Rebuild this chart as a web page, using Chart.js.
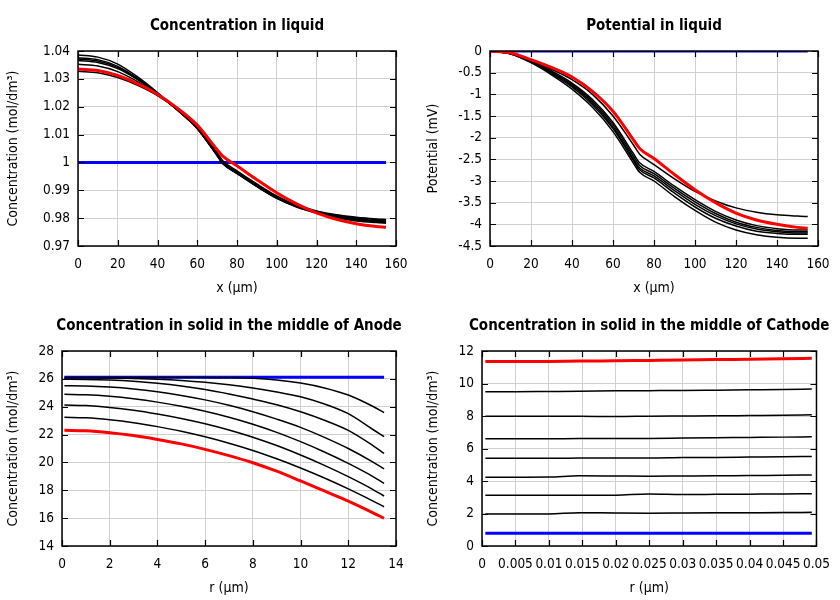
<!DOCTYPE html>
<html><head><meta charset="utf-8">
<script src="https://cdn.jsdelivr.net/npm/chart.js@4/dist/chart.umd.min.js"></script>
<style>
html,body{margin:0;padding:0;background:#fff;}
#wrap{position:relative;width:840px;height:600px;}
.cell{position:absolute;width:420px;height:300px;}
</style></head><body>
<div id="wrap">
<div class="cell" style="left:0;top:0"><canvas id="c1" width="420" height="300"></canvas></div>
<div class="cell" style="left:420px;top:0"><canvas id="c2" width="420" height="300"></canvas></div>
<div class="cell" style="left:0;top:300px"><canvas id="c3" width="420" height="300"></canvas></div>
<div class="cell" style="left:420px;top:300px"><canvas id="c4" width="420" height="300"></canvas></div>
</div>
<script>
// ---------- Data ----------
// Panel 1: Concentration in liquid (mol/dm3) vs x (µm)
const liqX = [0,10,20,30,40,50,60,70,73,80,90,100,110,120,130,140,150,155];
const liqConcRed = [1.0335,1.0330,1.0312,1.0283,1.0245,1.0195,1.0134,1.0046,1.0022,0.9988,0.9938,0.9891,0.9851,0.9819,0.9796,0.9780,0.9770,0.9767];
const liqConcBlack1 = [1.0386,1.0378,1.0353,1.0307,1.0251,1.0188,1.0121,1.0024,0.9994,0.9960,0.9913,0.9871,0.9840,0.9818,0.9801,0.9790,0.9784,0.9782];
const liqConcBlack2 = [1.0376,1.0369,1.0345,1.0302,1.0249,1.0188,1.0122,1.0025,0.9995,0.9961,0.9914,0.9872,0.9841,0.9820,0.9804,0.9793,0.9787,0.9785];
const liqConcBlack3 = [1.0371,1.0364,1.0341,1.0299,1.0248,1.0188,1.0123,1.0026,0.9996,0.9962,0.9915,0.9873,0.9842,0.9821,0.9806,0.9795,0.9789,0.9787];
const liqConcBlack4 = [1.0366,1.0359,1.0337,1.0297,1.0247,1.0188,1.0123,1.0027,0.9997,0.9963,0.9916,0.9874,0.9843,0.9822,0.9808,0.9798,0.9792,0.9790];
const liqConcBlack5 = [1.0352,1.0346,1.0326,1.0290,1.0245,1.0189,1.0125,1.0030,1.0000,0.9966,0.9919,0.9877,0.9845,0.9824,0.9810,0.9801,0.9795,0.9793];
const liqConcBlack6 = [1.0327,1.0322,1.0305,1.0277,1.0240,1.0190,1.0128,1.0035,1.0005,0.9970,0.9923,0.9880,0.9847,0.9826,0.9812,0.9803,0.9797,0.9795];
const liqConcBlue = [1,1,1,1,1,1,1,1,1,1,1,1,1,1,1,1,1,1];

// Panel 2: Potential in liquid (mV) vs x (µm)
const potRed = [0,-0.04,-0.20,-0.38,-0.60,-0.93,-1.39,-2.05,-2.25,-2.48,-2.85,-3.20,-3.50,-3.74,-3.90,-4.00,-4.07,-4.09];
const potBlack1 = [0,-0.05,-0.22,-0.42,-0.66,-1.00,-1.50,-2.17,-2.38,-2.62,-2.95,-3.24,-3.46,-3.62,-3.72,-3.78,-3.81,-3.82];
const potBlack2 = [0,-0.05,-0.23,-0.46,-0.74,-1.12,-1.65,-2.37,-2.58,-2.78,-3.12,-3.43,-3.70,-3.90,-4.03,-4.10,-4.13,-4.13];
const potBlack3 = [0,-0.06,-0.24,-0.48,-0.77,-1.16,-1.70,-2.43,-2.64,-2.83,-3.17,-3.48,-3.75,-3.95,-4.07,-4.14,-4.17,-4.17];
const potBlack4 = [0,-0.06,-0.25,-0.50,-0.80,-1.20,-1.75,-2.49,-2.70,-2.88,-3.22,-3.54,-3.80,-3.99,-4.11,-4.17,-4.20,-4.20];
const potBlack5 = [0,-0.065,-0.26,-0.52,-0.83,-1.24,-1.79,-2.53,-2.74,-2.93,-3.28,-3.60,-3.86,-4.04,-4.16,-4.21,-4.23,-4.23];
const potBlack6 = [0,-0.07,-0.27,-0.55,-0.88,-1.30,-1.86,-2.59,-2.80,-3.00,-3.36,-3.68,-3.95,-4.13,-4.24,-4.30,-4.32,-4.32];
const potBlue = [0,0,0,0,0,0,0,0,0,0,0,0,0,0,0,0,0,0];

// Panel 3: Concentration in solid, middle of Anode vs r (µm)
const anodeR = [0.1,1,2,3,4,5,6,7,8,9,10,11,12,13,13.5];
const anodeRed = [22.31,22.27,22.13,21.93,21.65,21.33,20.94,20.49,19.98,19.37,18.67,17.95,17.23,16.42,15.99];
const anodeBlack1 = [26.10,26.10,26.10,26.10,26.10,26.10,26.09,26.08,26.04,25.92,25.70,25.35,24.84,24.05,23.57];
const anodeBlack2 = [26.08,26.08,26.06,26.03,25.97,25.88,25.75,25.57,25.34,25.06,24.72,24.20,23.50,22.40,21.85];
const anodeBlack3 = [25.97,25.96,25.91,25.82,25.68,25.49,25.24,24.92,24.55,24.14,23.64,23.03,22.30,21.25,20.65];
const anodeBlack4 = [25.51,25.49,25.41,25.27,25.07,24.81,24.49,24.10,23.64,23.11,22.52,21.80,21.00,20.06,19.53];
const anodeBlack5 = [24.89,24.86,24.75,24.57,24.33,24.03,23.67,23.24,22.74,22.16,21.49,20.75,19.93,19.02,18.50];
const anodeBlack6 = [24.12,24.08,23.95,23.75,23.48,23.16,22.78,22.33,21.81,21.21,20.53,19.79,18.98,18.09,17.59];
const anodeBlack7 = [23.24,23.20,23.06,22.85,22.57,22.24,21.84,21.38,20.86,20.26,19.60,18.88,18.10,17.26,16.82];
const anodeBlue = [26.11,26.11,26.11,26.11,26.11,26.11,26.11,26.11,26.11,26.11,26.11,26.11,26.11,26.11,26.11];

// Panel 4: Concentration in solid, middle of Cathode vs r (µm)
const cathR = [0.0005,0.005,0.01,0.0145,0.02,0.025,0.03,0.035,0.04,0.045,0.0493];
const cathRed = [11.35,11.35,11.36,11.38,11.40,11.42,11.44,11.47,11.49,11.52,11.55];
const cathBlack1 = [9.50,9.50,9.51,9.52,9.55,9.56,9.57,9.59,9.61,9.63,9.66];
const cathBlack2 = [7.98,7.98,7.98,7.98,7.97,7.99,8.00,8.01,8.03,8.05,8.07];
const cathBlack3 = [6.60,6.60,6.60,6.61,6.61,6.62,6.64,6.66,6.68,6.70,6.72];
const cathBlack4 = [5.40,5.40,5.40,5.41,5.42,5.41,5.44,5.45,5.47,5.49,5.51];
const cathBlack5 = [4.23,4.23,4.24,4.32,4.31,4.30,4.31,4.32,4.34,4.35,4.37];
const cathBlack6 = [3.12,3.12,3.12,3.12,3.13,3.20,3.17,3.18,3.19,3.20,3.22];
const cathBlack7 = [1.97,1.97,1.97,2.05,2.03,2.02,2.03,2.04,2.05,2.06,2.07];
const cathBlue = [0.78,0.78,0.78,0.78,0.78,0.78,0.78,0.78,0.78,0.78,0.78];

// ---------- Rendering ----------
const FONT = "'DejaVu Sans Condensed', 'DejaVu Sans', sans-serif";

function pts(xs, ys){ return xs.map((x,i)=>({x:x, y:ys[i]})); }
function ds(xs, ys, color, w){
  return {data: pts(xs, ys), borderColor: color, borderWidth: w, pointRadius: 0,
          cubicInterpolationMode: 'monotone', fill: false};
}

const framePlugin = {
  id: 'frame',
  afterDraw(chart, args, opts){
    const {ctx, chartArea: a} = chart;
    const xs = chart.scales.x, ys = chart.scales.y;
    ctx.save();
    ctx.strokeStyle = '#000';
    ctx.lineWidth = 1.2;
    const L = 6;
    ctx.beginPath();
    xs.ticks.forEach(t => {
      const p = Math.round(xs.getPixelForValue(t.value)) + 0.5;
      ctx.moveTo(p, a.bottom); ctx.lineTo(p, a.bottom - L);
      ctx.moveTo(p, a.top); ctx.lineTo(p, a.top + L);
    });
    ys.ticks.forEach(t => {
      const p = Math.round(ys.getPixelForValue(t.value)) + 0.5;
      ctx.moveTo(a.left, p); ctx.lineTo(a.left + L, p);
      ctx.moveTo(a.right, p); ctx.lineTo(a.right - L, p);
    });
    ctx.stroke();
    ctx.lineWidth = 1.5;
    ctx.strokeRect(a.left, a.top, a.right - a.left, a.bottom - a.top);
    // title
    ctx.fillStyle = '#000';
    ctx.font = "bold 15px " + FONT;
    ctx.textAlign = 'center';
    ctx.textBaseline = 'middle';
    ctx.fillText(opts.text, (a.left + a.right) / 2, 26);
    ctx.restore();
  }
};

function makeChart(id, cfg){
  new Chart(document.getElementById(id), {
    type: 'line',
    data: {datasets: cfg.datasets},
    options: {
      responsive: false, animation: false,
      layout: {padding: {top: 51, right: cfg.padRight, bottom: 0, left: 0}},
      plugins: {legend: {display: false}, tooltip: {enabled: false}, frame: {text: cfg.title}},
      scales: {
        x: {
          type: 'linear', min: cfg.xMin, max: cfg.xMax,
          afterFit: s => { s.height = 54; },
          grid: {color: '#d0d0d0', lineWidth: 1, drawTicks: false},
          border: {display: false},
          ticks: {stepSize: cfg.xStep, autoSkip: false, maxRotation: 0, minRotation: 0, padding: 10,
                  color: '#000', font: {family: FONT, size: 13.5}, callback: cfg.xFmt},
          title: {display: true, text: cfg.xTitle, color: '#000', font: {family: FONT, size: 14}, padding: {top: 4, bottom: 3}}
        },
        y: {
          type: 'linear', min: cfg.yMin, max: cfg.yMax,
          afterFit: s => { s.width = cfg.left; },
          grid: {color: '#d0d0d0', lineWidth: 1, drawTicks: false},
          border: {display: false},
          ticks: {stepSize: cfg.yStep, autoSkip: false, padding: 8,
                  color: '#000', font: {family: FONT, size: 13.5}, callback: cfg.yFmt},
          title: {display: true, text: cfg.yTitle, color: '#000', font: {family: FONT, size: 14}, padding: {top: 5, bottom: 4}}
        }
      }
    },
    plugins: [framePlugin]
  });
}

const BW = 1.5, RW = 3;

makeChart('c1', {
  title: 'Concentration in liquid',
  left: 78, padRight: 24,
  xMin: 0, xMax: 160, xStep: 20, yMin: 0.97, yMax: 1.04, yStep: 0.01,
  xFmt: v => String(+v.toFixed(0)), yFmt: v => String(+v.toFixed(2)),
  xTitle: 'x (µm)', yTitle: 'Concentration (mol/dm³)',
  datasets: [
    ds(liqX, liqConcRed, '#ff0000', RW),
    ds(liqX, liqConcBlack1, '#000', BW), ds(liqX, liqConcBlack2, '#000', BW),
    ds(liqX, liqConcBlack3, '#000', BW), ds(liqX, liqConcBlack4, '#000', BW),
    ds(liqX, liqConcBlack5, '#000', BW), ds(liqX, liqConcBlack6, '#000', BW),
    ds(liqX, liqConcBlue, '#0000ff', RW)
  ]
});

makeChart('c2', {
  title: 'Potential in liquid',
  left: 70, padRight: 22,
  xMin: 0, xMax: 160, xStep: 20, yMin: -4.5, yMax: 0, yStep: 0.5,
  xFmt: v => String(+v.toFixed(0)), yFmt: v => String(+v.toFixed(1)),
  xTitle: 'x (µm)', yTitle: 'Potential (mV)',
  datasets: [
    ds(liqX, potRed, '#ff0000', RW),
    ds(liqX, potBlack1, '#000', BW), ds(liqX, potBlack2, '#000', BW),
    ds(liqX, potBlack3, '#000', BW), ds(liqX, potBlack4, '#000', BW),
    ds(liqX, potBlack5, '#000', BW), ds(liqX, potBlack6, '#000', BW),
    ds(liqX, potBlue, '#0000ff', RW)
  ]
});

makeChart('c3', {
  title: 'Concentration in solid in the middle of Anode',
  left: 62, padRight: 24,
  xMin: 0, xMax: 14, xStep: 2, yMin: 14, yMax: 28, yStep: 2,
  xFmt: v => String(+v.toFixed(0)), yFmt: v => String(+v.toFixed(0)),
  xTitle: 'r (µm)', yTitle: 'Concentration (mol/dm³)',
  datasets: [
    ds(anodeR, anodeRed, '#ff0000', RW),
    ds(anodeR, anodeBlack1, '#000', BW), ds(anodeR, anodeBlack2, '#000', BW),
    ds(anodeR, anodeBlack3, '#000', BW), ds(anodeR, anodeBlack4, '#000', BW),
    ds(anodeR, anodeBlack5, '#000', BW), ds(anodeR, anodeBlack6, '#000', BW),
    ds(anodeR, anodeBlack7, '#000', BW),
    ds(anodeR, anodeBlue, '#0000ff', RW)
  ]
});

makeChart('c4', {
  title: 'Concentration in solid in the middle of Cathode',
  left: 62, padRight: 22,
  xMin: 0, xMax: 0.05, xStep: 0.005, yMin: 0, yMax: 12, yStep: 2,
  xFmt: v => String(+v.toFixed(3)), yFmt: v => String(+v.toFixed(0)),
  xTitle: 'r (µm)', yTitle: 'Concentration (mol/dm³)',
  datasets: [
    ds(cathR, cathRed, '#ff0000', RW),
    ds(cathR, cathBlack1, '#000', BW), ds(cathR, cathBlack2, '#000', BW),
    ds(cathR, cathBlack3, '#000', BW), ds(cathR, cathBlack4, '#000', BW),
    ds(cathR, cathBlack5, '#000', BW), ds(cathR, cathBlack6, '#000', BW),
    ds(cathR, cathBlack7, '#000', BW),
    ds(cathR, cathBlue, '#0000ff', RW)
  ]
});
</script>
</body></html>
